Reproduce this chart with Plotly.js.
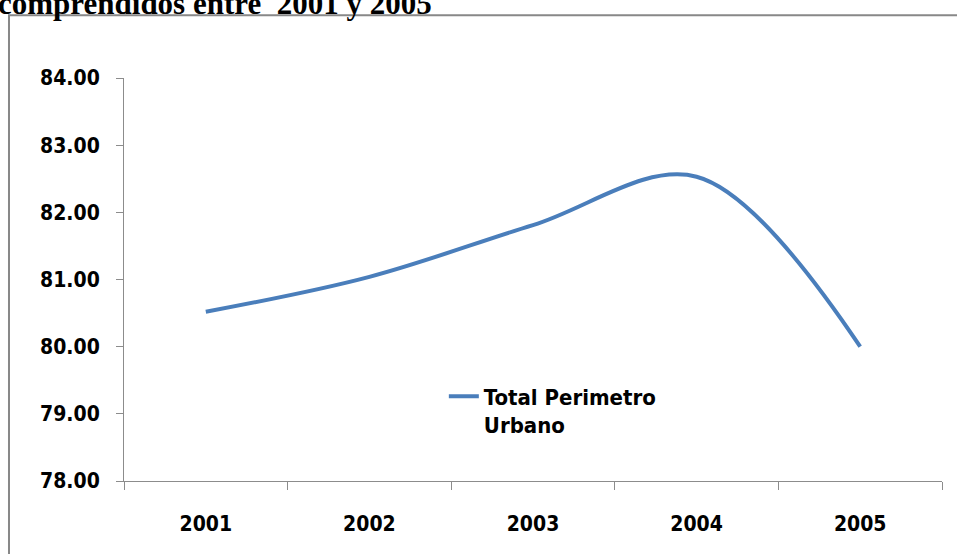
<!DOCTYPE html>
<html>
<head>
<meta charset="utf-8">
<script src="https://cdn.plot.ly/plotly-3.0.1.min.js"></script>
<style>html,body{margin:0;padding:0;background:#fff;}#chart{width:957px;height:554px;}</style>
</head>
<body>
<div id="chart"></div>
<script>
var years = ['2001', '2002', '2003', '2004', '2005'];
var totalPerimetroUrbano = [80.52, 81.04, 81.81, 82.53, 80.00];
var seriesName = 'Total Perimetro<br>Urbano';
var yTicks = [78, 79, 80, 81, 82, 83, 84];
var titleText = 'comprendidos entre  2001 y 2005';

var tickFont = {family: 'DejaVu Sans Condensed, DejaVu Sans', size: 21, color: '#000', weight: 'bold'};

var trace = {
  x: years,
  y: totalPerimetroUrbano,
  type: 'scatter',
  mode: 'lines',
  name: seriesName,
  line: {color: '#4A7EBB', width: 4, shape: 'spline', smoothing: 1}
};

var layout = {
  width: 957, height: 554,
  margin: {l: 124, r: 15, t: 78, b: 73},
  paper_bgcolor: '#fff', plot_bgcolor: '#fff',
  showlegend: true,
  legend: {
    x: 0.391, y: 0.262, xanchor: 'left', yanchor: 'top',
    bgcolor: 'rgba(0,0,0,0)', valign: 'top',
    font: {family: 'DejaVu Sans Condensed, DejaVu Sans', size: 22, color: '#000', weight: 'bold'}
  },
  xaxis: {
    type: 'category', range: [-0.5, 4.5],
    showline: true, linecolor: '#8c8c8c', linewidth: 1,
    ticks: 'outside', tickson: 'boundaries', ticklen: 8, tickcolor: '#8c8c8c',
    showgrid: false, zeroline: false,
    tickfont: tickFont, ticklabelstandoff: 24
  },
  yaxis: {
    range: [78, 84], tickvals: yTicks, tickformat: '.2f',
    showline: true, linecolor: '#8c8c8c', linewidth: 1,
    ticks: 'outside', ticklen: 7, tickcolor: '#8c8c8c',
    showgrid: false, zeroline: false,
    tickfont: tickFont, ticklabelstandoff: 12
  },
  shapes: [{
    type: 'rect', xref: 'paper', yref: 'paper',
    x0: -0.1406, x1: 1.2, y0: -0.4, y1: 1.156,
    line: {color: '#888888', width: 2}, fillcolor: 'rgba(0,0,0,0)'
  }],
  annotations: [{
    text: titleText, xref: 'paper', yref: 'paper',
    x: -0.1565, y: 1.186, xanchor: 'left', yanchor: 'middle',
    showarrow: false,
    font: {family: 'Liberation Serif, Times New Roman, serif', size: 31, color: '#000', weight: 'bold'}
  }]
};

Plotly.newPlot('chart', [trace], layout, {displayModeBar: false, staticPlot: true});
</script>
</body>
</html>
